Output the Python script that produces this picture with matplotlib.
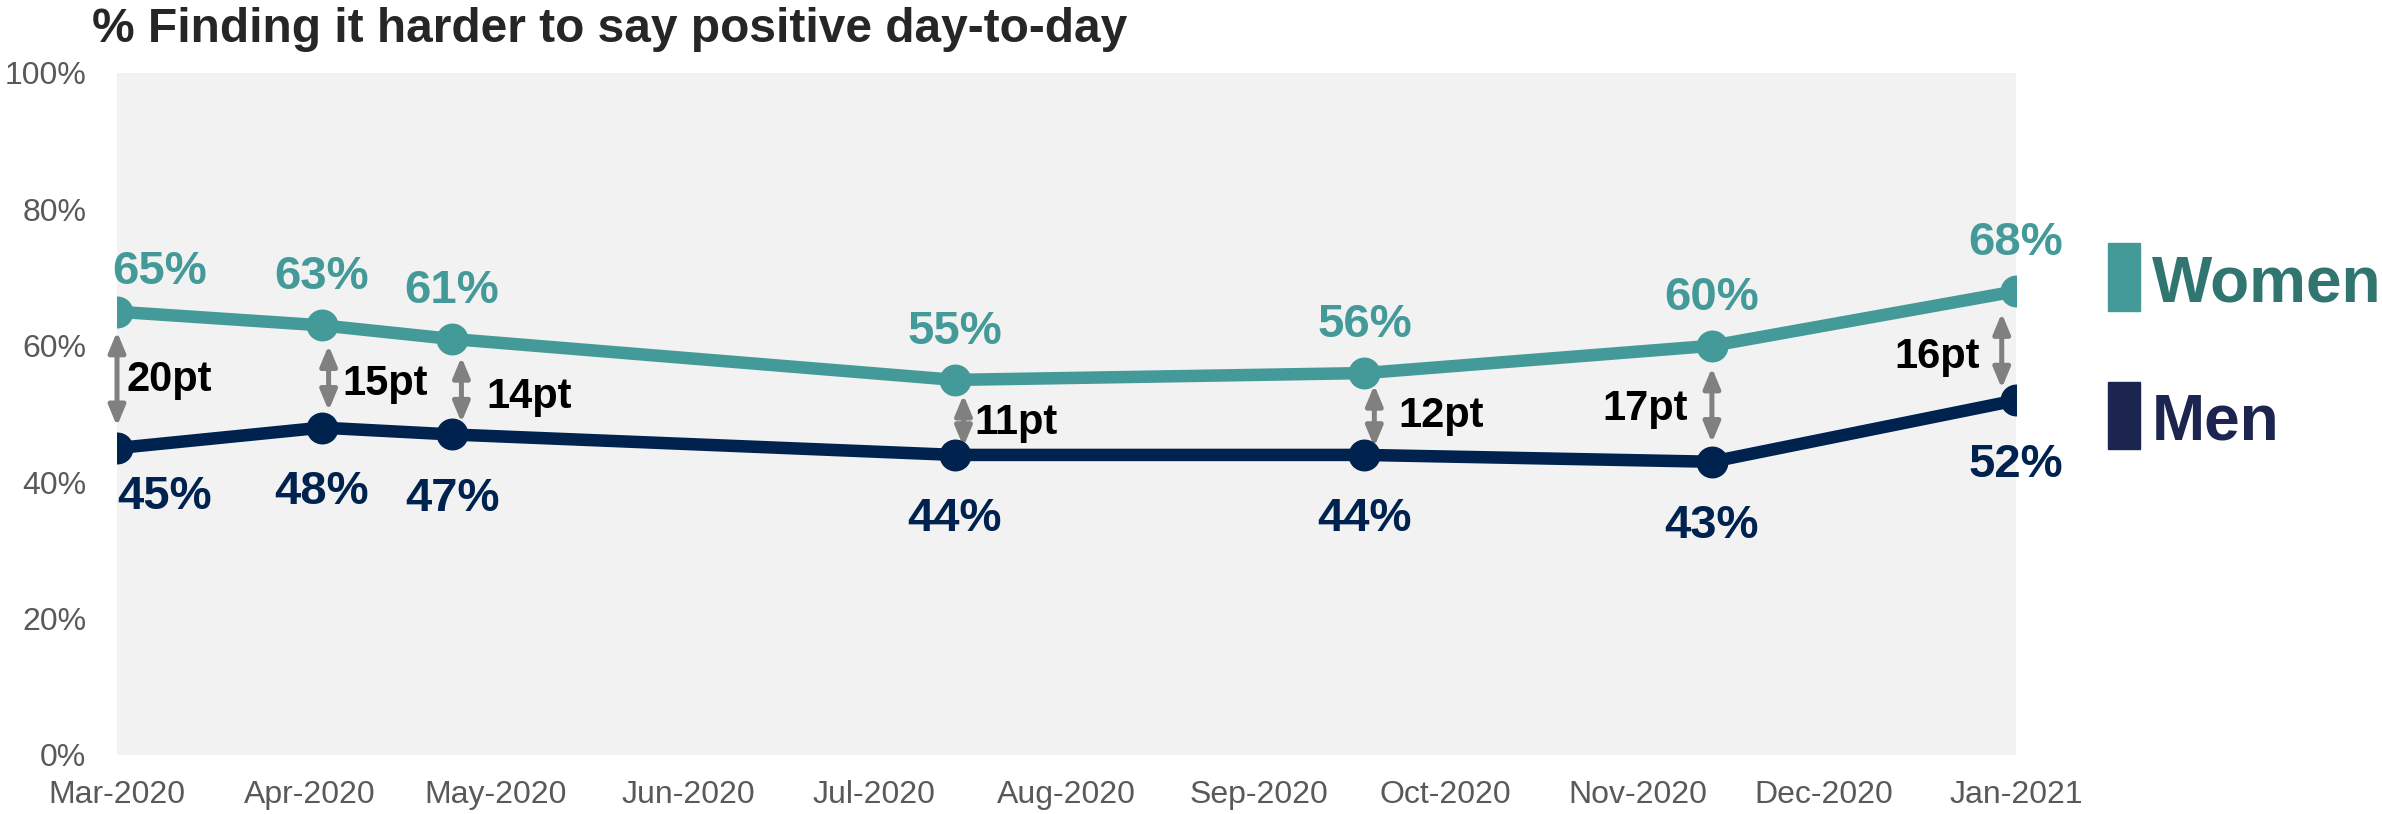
import matplotlib
matplotlib.use('Agg')
import matplotlib.pyplot as plt
import matplotlib.dates as mdates
from matplotlib.patches import Rectangle
import datetime as dt

# Данные
survey_dates = ['2020-03-01', '2020-04-03', '2020-04-24', '2020-07-14',
                '2020-09-18', '2020-11-13', '2021-01-01']
women = [65, 63, 61, 55, 56, 60, 68]
men = [45, 48, 47, 44, 44, 43, 52]
gap_labels = ['20pt', '15pt', '14pt', '11pt', '12pt', '17pt', '16pt']
month_ticks = ['2020-03-01', '2020-04-01', '2020-05-01', '2020-06-01', '2020-07-01',
               '2020-08-01', '2020-09-01', '2020-10-01', '2020-11-01', '2020-12-01',
               '2021-01-01']
y_ticks = [0, 20, 40, 60, 80, 100]

TEAL = '#449a99'
NAVY = '#00224f'
GREY = '#808080'
FONT = ['Liberation Sans', 'DejaVu Sans']

dates = [dt.datetime.strptime(d, '%Y-%m-%d') for d in survey_dates]
ticks = [dt.datetime.strptime(d, '%Y-%m-%d') for d in month_ticks]

fig = plt.figure(figsize=(23.82, 8.14), dpi=100)
ax = fig.add_axes([117 / 2382, 59 / 814, 1899 / 2382, 682 / 814])
ax.set_facecolor('#f2f2f2')

ax.plot(dates, women, color=TEAL, lw=9, marker='o', ms=22, zorder=3)
ax.plot(dates, men, color=NAVY, lw=9, marker='o', ms=22, zorder=3)

# стрелки разницы: сдвиг по x (дни) и отступы от маркеров (pt)
arrow_shift = [0, 1.1, 1.5, 1.4, 1.6, 0, -2.3]
arrow_shrink = [(14.4, 15.8), (14.4, 12.2), (13, 8.6), (10.8, 5.8),
                (8.6, 5.8), (15.8, 13.7), (15.8, 8.6)]
for d, w, m, s, (sa, sb) in zip(dates, women, men, arrow_shift, arrow_shrink):
    x = mdates.date2num(d) + s
    ax.annotate('', xy=(x, m), xytext=(x, w),
                arrowprops=dict(arrowstyle='<|-|>,head_length=1.2,head_width=0.5',
                                color=GREY, lw=3.6, shrinkA=sa, shrinkB=sb),
                zorder=2)

# подписи разницы
gap_offsets = [(7, -8.3, 'left'), (14.6, -13.3, 'left'), (24.5, -15.5, 'left'),
               (14, -12, 'left'), (24.5, -9.4, 'left'), (-17, -11.5, 'right'),
               (-26, -16, 'right')]
for d, w, m, lab, (ox, oy, ha) in zip(dates, women, men, gap_labels, gap_offsets):
    ax.annotate(lab, xy=(d, (w + m) / 2), xytext=(ox, oy), textcoords='offset points',
                ha=ha, va='baseline', fontsize=30, fontweight='bold', color='black',
                family=FONT)

# подписи значений
for i, (d, w, m) in enumerate(zip(dates, women, men)):
    if i == 0:
        ha, oxw, oxm, oyw, oym = 'left', -3.6, 0, 20, -44
    else:
        ha, oxw, oxm, oyw, oym = 'center', 0, 0, 26, -55
    ax.annotate(f'{w}%', xy=(d, w), xytext=(oxw, oyw), textcoords='offset points',
                ha=ha, va='baseline', fontsize=34, fontweight='bold', color=TEAL,
                family=FONT)
    ax.annotate(f'{m}%', xy=(d, m), xytext=(oxm, oym), textcoords='offset points',
                ha=ha, va='baseline', fontsize=34, fontweight='bold', color=NAVY,
                family=FONT)

ax.set_ylim(0, 100)
ax.set_xlim(ticks[0], ticks[-1])
ax.set_yticks(y_ticks)
ax.set_yticklabels([f'{v}%' for v in y_ticks])
ax.set_xticks(ticks)
ax.set_xticklabels([t.strftime('%b-%Y') for t in ticks])
ax.tick_params(axis='y', length=0, pad=22, labelsize=23, labelcolor='#595959')
ax.tick_params(axis='x', length=0, pad=18, labelsize=23, labelcolor='#595959')
for lab in ax.get_xticklabels() + ax.get_yticklabels():
    lab.set_family(FONT)
for sp in ax.spines.values():
    sp.set_visible(False)

fig.text(92 / 2382, 1 - 42 / 814, '% Finding it harder to say positive day-to-day',
         fontsize=34.5, fontweight='bold', color='#262626', family=FONT, va='baseline')

# легенда
fig.patches.append(Rectangle((2108 / 2382, 1 - 311 / 814), 32 / 2382, 68 / 814,
                             transform=fig.transFigure, color=TEAL))
fig.patches.append(Rectangle((2108 / 2382, 1 - 449 / 814), 32 / 2382, 67 / 814,
                             transform=fig.transFigure, color='#1b2550'))
fig.text(2152 / 2382, 1 - 302 / 814, 'Women', fontsize=46, fontweight='bold',
         color='#317571', family=FONT, va='baseline')
fig.text(2152 / 2382, 1 - 440 / 814, 'Men', fontsize=46, fontweight='bold',
         color='#1b2550', family=FONT, va='baseline')

fig.savefig('out.png', dpi=100)
